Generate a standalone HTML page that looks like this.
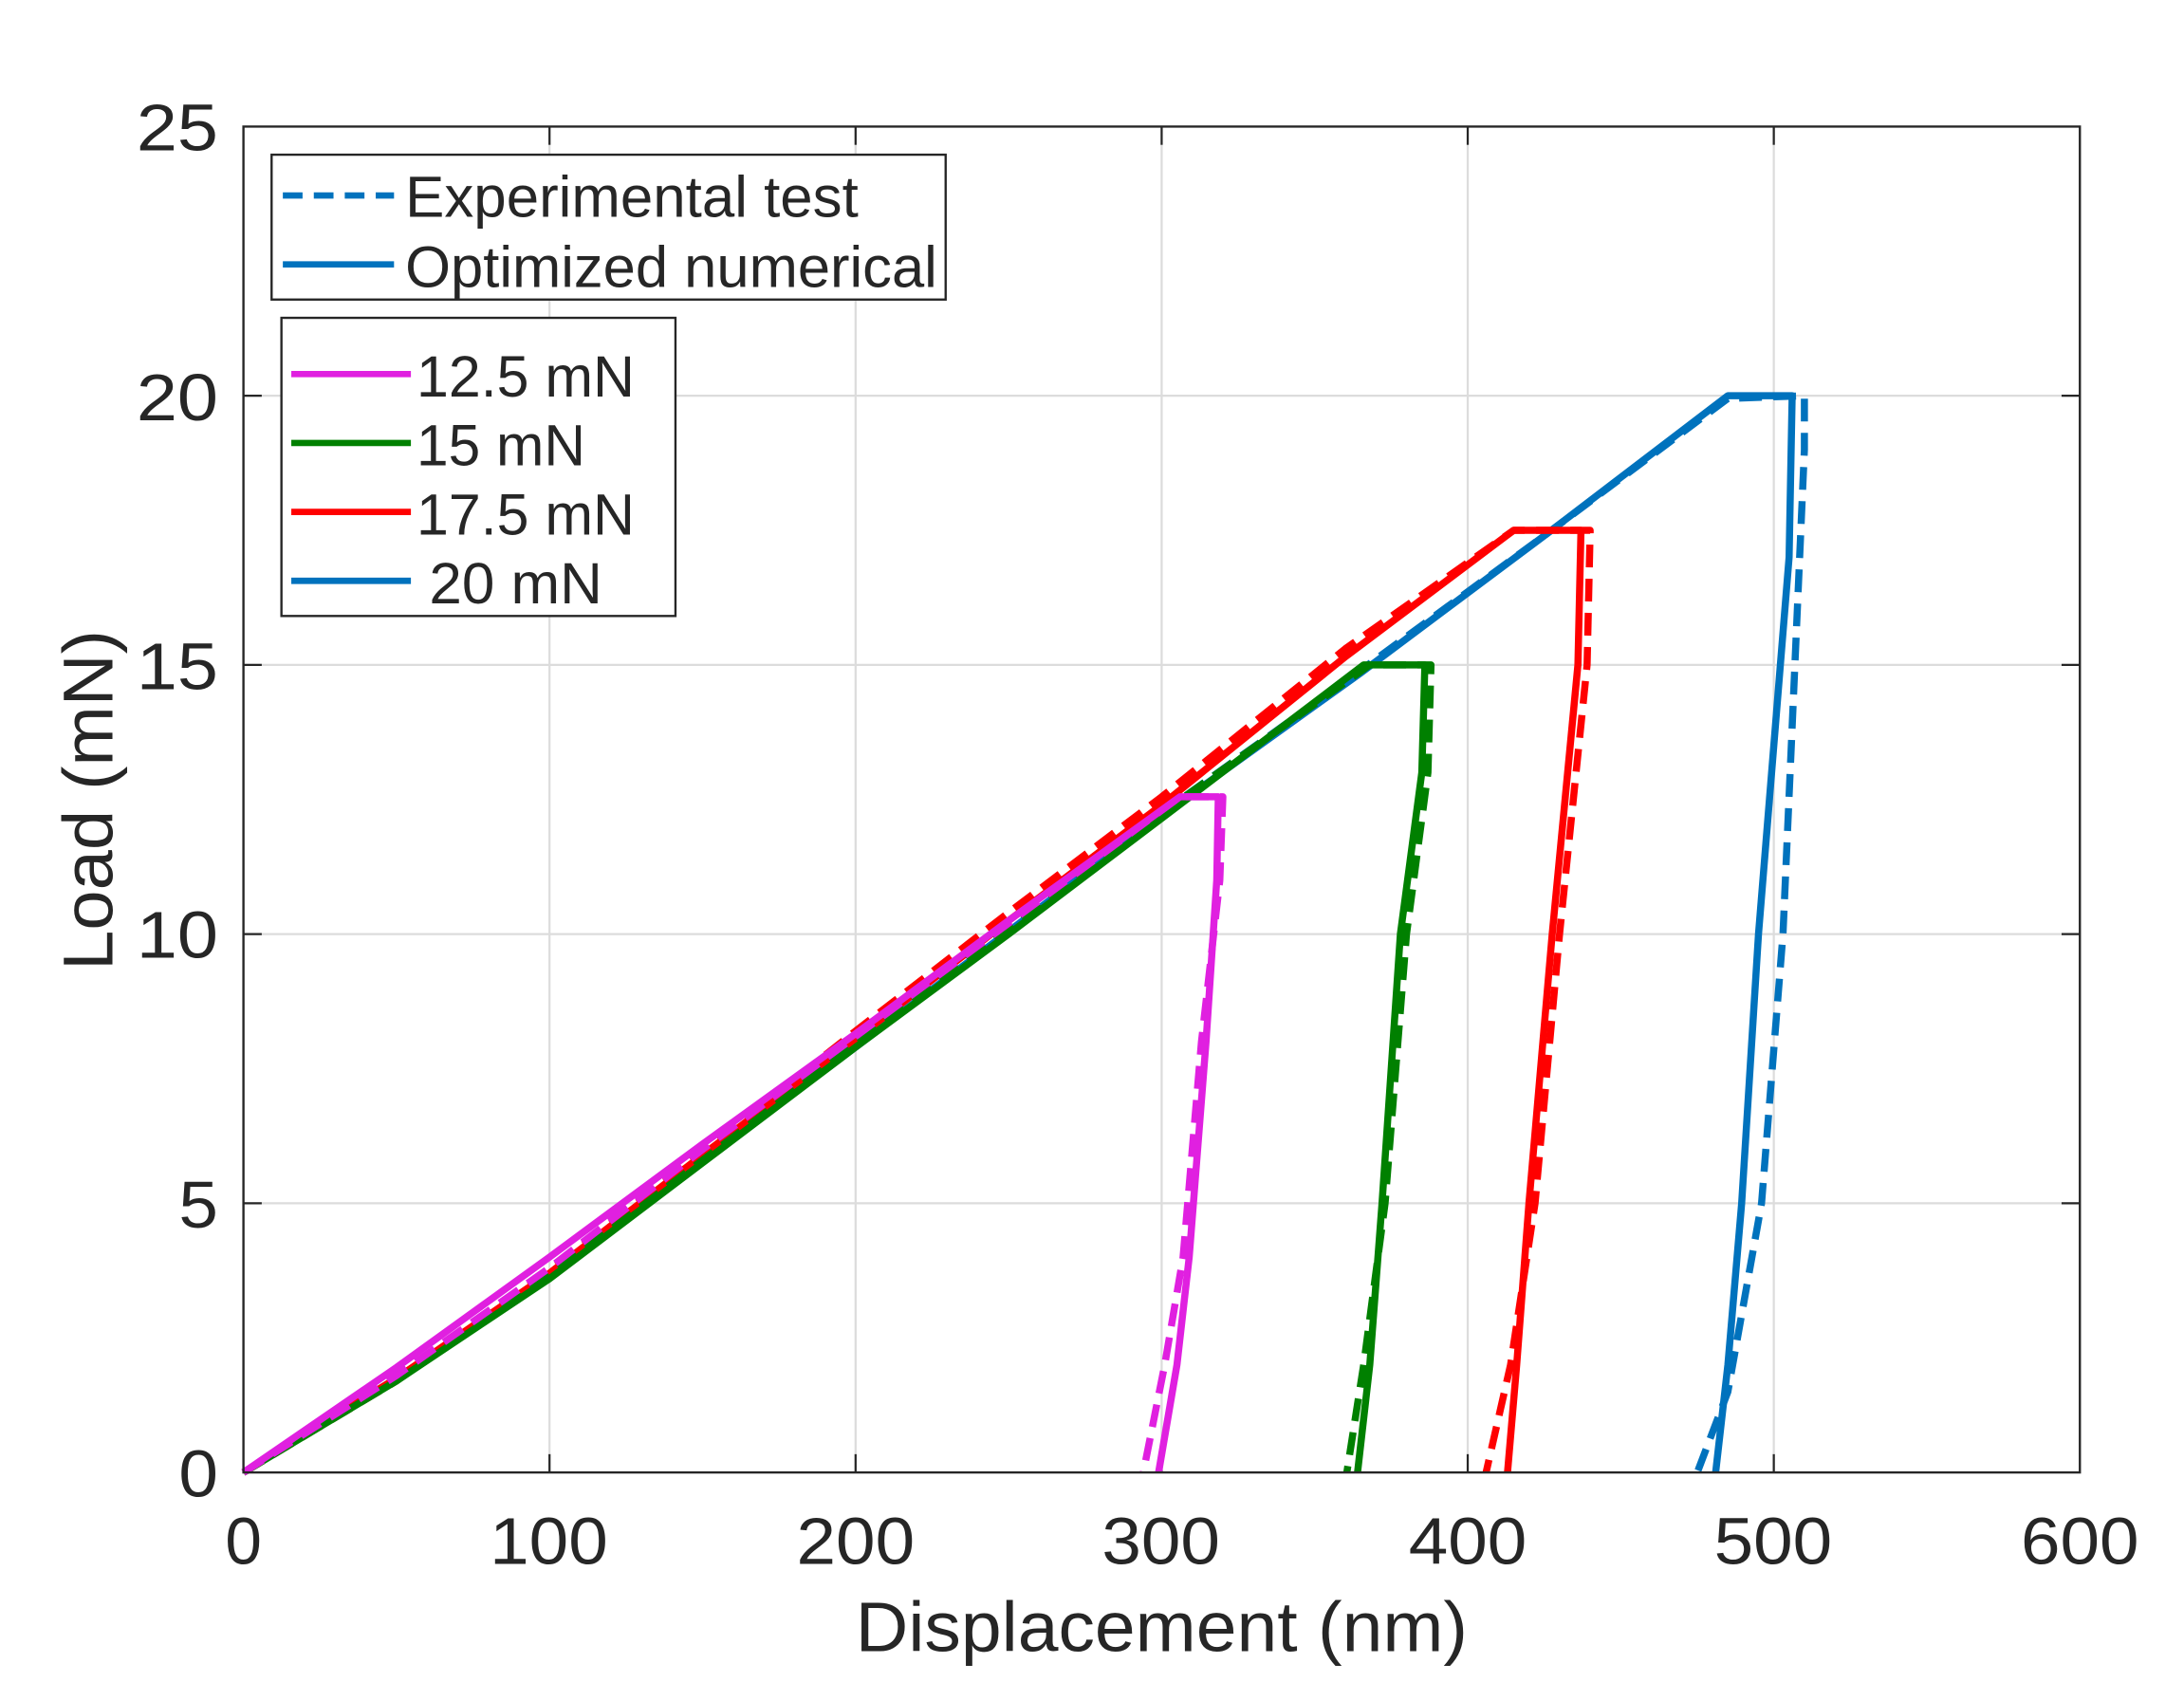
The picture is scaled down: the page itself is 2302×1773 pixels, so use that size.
<!DOCTYPE html>
<html><head><style>
html,body{margin:0;padding:0;background:#fff;}
svg{display:block;}
text{font-family:"Liberation Sans",sans-serif;fill:#262626;}
</style></head><body>
<svg width="2302" height="1773" viewBox="0 0 1552 1196" preserveAspectRatio="none">
<rect x="0" y="0" width="1552" height="1196" fill="#fff"/>
<g stroke="#dcdcdc" stroke-width="1.5">
<line x1="390.5" y1="90" x2="390.5" y2="1047"/>
<line x1="608" y1="90" x2="608" y2="1047"/>
<line x1="825.5" y1="90" x2="825.5" y2="1047"/>
<line x1="1043" y1="90" x2="1043" y2="1047"/>
<line x1="1260.5" y1="90" x2="1260.5" y2="1047"/>
<line x1="173" y1="855.6" x2="1478" y2="855.6"/>
<line x1="173" y1="664.2" x2="1478" y2="664.2"/>
<line x1="173" y1="472.8" x2="1478" y2="472.8"/>
<line x1="173" y1="281.4" x2="1478" y2="281.4"/>
</g>
<g stroke="#262626" stroke-width="1.5">
<line x1="390.5" y1="1047" x2="390.5" y2="1034"/><line x1="390.5" y1="90" x2="390.5" y2="103"/>
<line x1="608" y1="1047" x2="608" y2="1034"/><line x1="608" y1="90" x2="608" y2="103"/>
<line x1="825.5" y1="1047" x2="825.5" y2="1034"/><line x1="825.5" y1="90" x2="825.5" y2="103"/>
<line x1="1043" y1="1047" x2="1043" y2="1034"/><line x1="1043" y1="90" x2="1043" y2="103"/>
<line x1="1260.5" y1="1047" x2="1260.5" y2="1034"/><line x1="1260.5" y1="90" x2="1260.5" y2="103"/>
<line x1="173" y1="855.6" x2="186" y2="855.6"/><line x1="1478" y1="855.6" x2="1465" y2="855.6"/>
<line x1="173" y1="664.2" x2="186" y2="664.2"/><line x1="1478" y1="664.2" x2="1465" y2="664.2"/>
<line x1="173" y1="472.8" x2="186" y2="472.8"/><line x1="1478" y1="472.8" x2="1465" y2="472.8"/>
<line x1="173" y1="281.4" x2="186" y2="281.4"/><line x1="1478" y1="281.4" x2="1465" y2="281.4"/>
</g>
<g transform="translate(173,1047) scale(2.175,-38.28)" fill="none" stroke-linejoin="round">
<polyline vector-effect="non-scaling-stroke" stroke-width="7.5" stroke="#0072BD" stroke-dasharray="24 12" points="0,0 50,1.75 100,3.65 150,5.8 200,7.95 250,10.1 300,12.25 365,14.9 425,17.4 485,19.95 510,20 510,19 503,10 496,5 485,1.5 475,0"/>
<polyline vector-effect="non-scaling-stroke" stroke-width="7.5" stroke="#0072BD" points="0,0 50,1.75 100,3.65 150,5.8 200,7.9 250,10.05 300,12.2 365,14.85 425,17.4 485,20 506,20 505,17 495,10 489.5,5 485,2 481,0"/>
<polyline vector-effect="non-scaling-stroke" stroke-width="7.5" stroke="#FF0000" stroke-dasharray="24 12" points="0,0 50,1.7 100,3.75 150,5.95 200,8.2 250,10.4 300,12.55 360,15.3 415,17.5 440,17.5 439,15 430,10 422,5 414,2 406,0"/>
<polyline vector-effect="non-scaling-stroke" stroke-width="7.5" stroke="#FF0000" points="0,0 50,1.75 100,3.7 150,5.9 200,8.05 250,10.25 300,12.4 360,15.15 415,17.5 437,17.5 436,15 427.6,10 420,5 416,2 413,0"/>
<polyline vector-effect="non-scaling-stroke" stroke-width="7.5" stroke="#008000" stroke-dasharray="24 12" points="0,0 50,1.7 100,3.65 150,5.8 200,7.95 250,10.1 300,12.25 368,15 388,15 387,13 380,10 373,5 366,2 360.5,0"/>
<polyline vector-effect="non-scaling-stroke" stroke-width="7.5" stroke="#008000" points="0,0 50,1.7 100,3.6 150,5.75 200,7.9 250,10.0 300,12.15 366,15 386,15 385,13 378,10 372,5 368,2 364,0"/>
<polyline vector-effect="non-scaling-stroke" stroke-width="7.5" stroke="#E020E0" stroke-dasharray="24 12" points="0,0 50,1.8 100,3.8 150,6.0 200,8.1 250,10.2 306,12.55 320,12.55 319,11 313,8 307,4 301,2 294,0"/>
<polyline vector-effect="non-scaling-stroke" stroke-width="7.5" stroke="#E020E0" points="0,0 50,1.95 100,4.0 150,6.1 200,8.15 250,10.25 306,12.55 318.5,12.55 318,11 314.5,8 309,4 305,2 299,0"/>
</g>
<rect x="173" y="90" width="1305" height="957" fill="none" stroke="#262626" stroke-width="1.6"/>
<g font-size="47">
<text x="160" y="1112" textLength="26" lengthAdjust="spacingAndGlyphs">0</text>
<text x="348" y="1112" textLength="84" lengthAdjust="spacingAndGlyphs">100</text>
<text x="566" y="1112" textLength="84" lengthAdjust="spacingAndGlyphs">200</text>
<text x="783" y="1112" textLength="84" lengthAdjust="spacingAndGlyphs">300</text>
<text x="1001" y="1112" textLength="84" lengthAdjust="spacingAndGlyphs">400</text>
<text x="1218" y="1112" textLength="84" lengthAdjust="spacingAndGlyphs">500</text>
<text x="1436" y="1112" textLength="84" lengthAdjust="spacingAndGlyphs">600</text>
</g>
<g font-size="47">
<text x="127" y="1064" textLength="28" lengthAdjust="spacingAndGlyphs">0</text>
<text x="127" y="873" textLength="28" lengthAdjust="spacingAndGlyphs">5</text>
<text x="97" y="681" textLength="58" lengthAdjust="spacingAndGlyphs">10</text>
<text x="97" y="490" textLength="58" lengthAdjust="spacingAndGlyphs">15</text>
<text x="97" y="299" textLength="58" lengthAdjust="spacingAndGlyphs">20</text>
<text x="97" y="107" textLength="58" lengthAdjust="spacingAndGlyphs">25</text>
</g>
<text x="608" y="1174" font-size="50" textLength="435" lengthAdjust="spacingAndGlyphs">Displacement (nm)</text>
<text transform="translate(80,690) rotate(-90)" font-size="50" textLength="242" lengthAdjust="spacingAndGlyphs">Load (mN)</text>
<rect x="193" y="110" width="479" height="103" fill="#fff" stroke="#262626" stroke-width="1.6"/>
<line x1="201" y1="139" x2="280" y2="139" stroke="#0072BD" stroke-width="4.5" stroke-dasharray="14 8"/>
<line x1="201" y1="188" x2="280" y2="188" stroke="#0072BD" stroke-width="4.5"/>
<text x="288" y="154" font-size="41" textLength="322" lengthAdjust="spacingAndGlyphs">Experimental test</text>
<text x="288" y="204" font-size="41" textLength="378" lengthAdjust="spacingAndGlyphs">Optimized numerical</text>
<rect x="200" y="226" width="280" height="212" fill="#fff" stroke="#262626" stroke-width="1.6"/>
<line x1="207" y1="266" x2="292" y2="266" stroke="#E020E0" stroke-width="4.5"/>
<line x1="207" y1="315" x2="292" y2="315" stroke="#008000" stroke-width="4.5"/>
<line x1="207" y1="364" x2="292" y2="364" stroke="#FF0000" stroke-width="4.5"/>
<line x1="207" y1="413" x2="292" y2="413" stroke="#0072BD" stroke-width="4.5"/>
<text x="296" y="282" font-size="41" textLength="155" lengthAdjust="spacingAndGlyphs">12.5 mN</text>
<text x="296" y="331" font-size="41" textLength="120" lengthAdjust="spacingAndGlyphs">15 mN</text>
<text x="296" y="380" font-size="41" textLength="155" lengthAdjust="spacingAndGlyphs">17.5 mN</text>
<text x="305" y="429" font-size="41" textLength="123" lengthAdjust="spacingAndGlyphs">20 mN</text>
</svg>
</body></html>
